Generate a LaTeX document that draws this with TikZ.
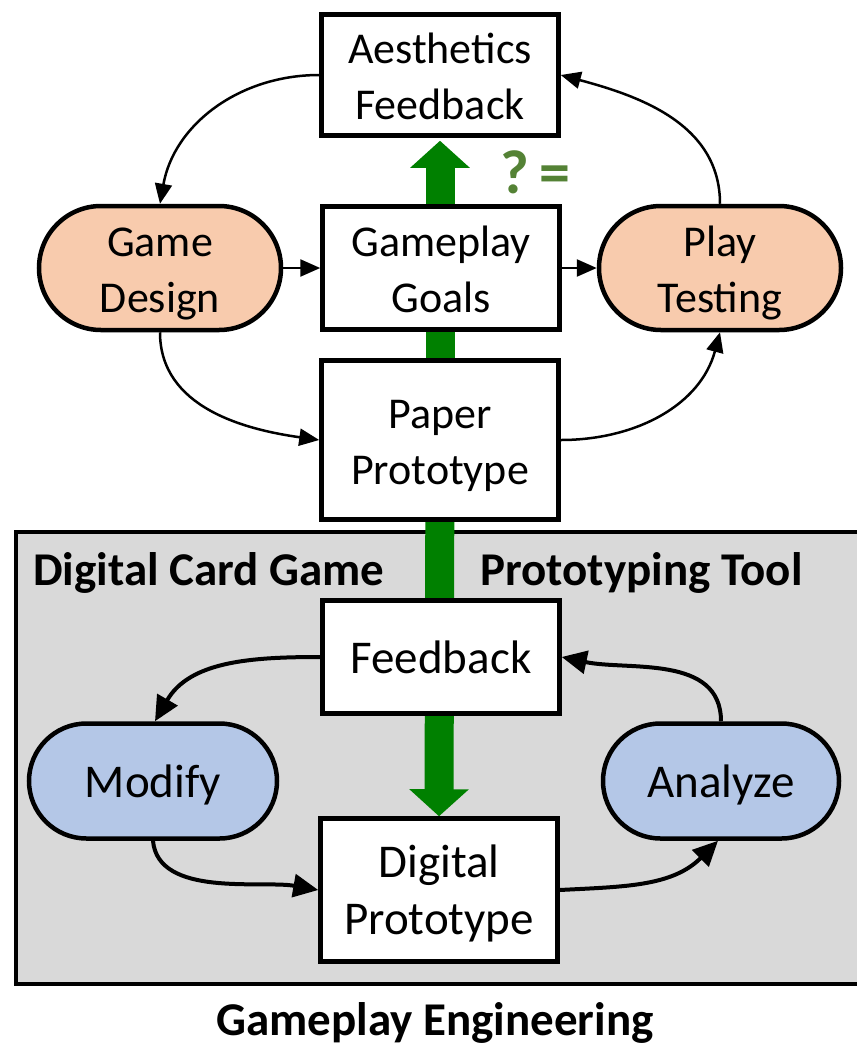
\documentclass[tikz,border=0pt]{standalone}
\usepackage{fontspec}
\setmainfont{Carlito}
\usetikzlibrary{arrows.meta}
\definecolor{peach}{HTML}{F8CBAD}
\definecolor{bluefill}{HTML}{B4C7E7}
\definecolor{greyfill}{HTML}{D9D9D9}
\definecolor{arrowgreen}{HTML}{008000}
\definecolor{olivetext}{HTML}{548235}
\pgfdeclarelayer{bg}
\pgfdeclarelayer{mid}
\pgfsetlayers{bg,mid,main}
\newcommand\lnstrut{\rule[-8pt]{0pt}{48pt}}
\tikzset{
  box/.style={draw, line width=4.5pt, fill=white, inner sep=0pt, align=center, minimum width=237pt},
  upfont/.style={font=\fontsize{44pt}{56pt}\selectfont},
  lowfont/.style={font=\fontsize{47pt}{57pt}\selectfont},
  pillup/.style={box, fill=peach, minimum width=242pt, minimum height=124pt, rounded corners=62pt},
  pilllow/.style={box, fill=bluefill, minimum height=115pt, rounded corners=57.5pt},
  uparrow/.style={line width=2.5pt, -{Triangle[length=20pt,width=17pt]}},
  lowarrow/.style={line width=4pt, -{Triangle[length=25pt,width=23pt]}},
  greenarrow/.style={draw=arrowgreen, line width=29pt, -{Triangle[length=27pt,width=58pt]}},
  label/.style={font=\fontsize{47pt}{57pt}\selectfont\bfseries, inner sep=0pt},
}
\begin{document}
\begin{tikzpicture}[x=1pt,y=-1pt]
\useasboundingbox (0,0) rectangle (857,1045);

% upper loop nodes
\node[box, upfont, minimum height=121pt] (af) at (440,75) {\lnstrut Aesthetics\\\lnstrut Feedback};
\node[box, upfont, minimum height=123pt] (gg) at (441,268) {\lnstrut Gameplay\\\lnstrut Goals};
\node[box, upfont, minimum height=159pt] (pp) at (440,440) {\lnstrut Paper\\\lnstrut Prototype};
\node[pillup, upfont] (gd) at (160,268) {\lnstrut Game\\\lnstrut Design};
\node[pillup, upfont] (pt) at (720,268) {\lnstrut Play\\\lnstrut Testing};

% lower loop nodes
\node[box, lowfont, minimum height=113pt] (fb) at (441,657) {\lnstrut Feedback};
\node[box, lowfont, minimum height=143pt] (dp) at (439,890) {\lnstrut Digital\\\lnstrut Prototype};
\node[pilllow, lowfont, minimum width=248pt] (mo) at (153,781) {\lnstrut Modify};
\node[pilllow, lowfont, minimum width=236pt] (an) at (721,781) {\lnstrut Analyze};

% container
\begin{pgfonlayer}{bg}
\node[draw, line width=3.5pt, fill=greyfill, minimum width=870pt, minimum height=452pt, inner sep=0pt, anchor=north west] (tool) at (14,530) {};
\end{pgfonlayer}

% green arrows
\begin{pgfonlayer}{mid}
\draw[greenarrow] (pp.center) -- ([yshift=-3pt]af.south);
\draw[greenarrow] (pp.center) -- (dp.north);
\end{pgfonlayer}

\node[font=\fontsize{62pt}{70pt}\selectfont\bfseries, text=olivetext, inner sep=0pt] (qe) at (535,172) {?\,=};

% labels
\node[label, anchor=base west] (dcg) at (33,585) {Digital Card Game};
\node[label, anchor=base west] (ptt) at (480,585) {Prototyping Tool};
\node[label, anchor=base] (ge) at (435,1035) {Gameplay Engineering};

% upper loop connectors
\draw[uparrow] (af.west) to[out=180, in=80] (gd.north);
\draw[uparrow] (pt.north) to[out=90, in=-15] (af.east);
\draw[uparrow] (gd.south) to[out=-90, in=172] (pp.west);
\draw[uparrow] (pp.east) to[out=0, in=-105] (pt.south);
\draw[uparrow] (gd.east) -- (gg.west);
\draw[uparrow] (gg.east) -- (pt.west);

% lower loop connectors
\draw[lowarrow] (fb.west) to[out=180, in=60] ([xshift=2pt]mo.north);
\draw[lowarrow] (an.north) to[out=90, in=-12] (fb.east);
\draw[lowarrow] (mo.south) to[out=-85, in=170, looseness=0.85] (dp.west);
\draw[lowarrow] (dp.east) to[out=3, in=-135] ([xshift=-3pt]an.south);
\end{tikzpicture}
\end{document}
